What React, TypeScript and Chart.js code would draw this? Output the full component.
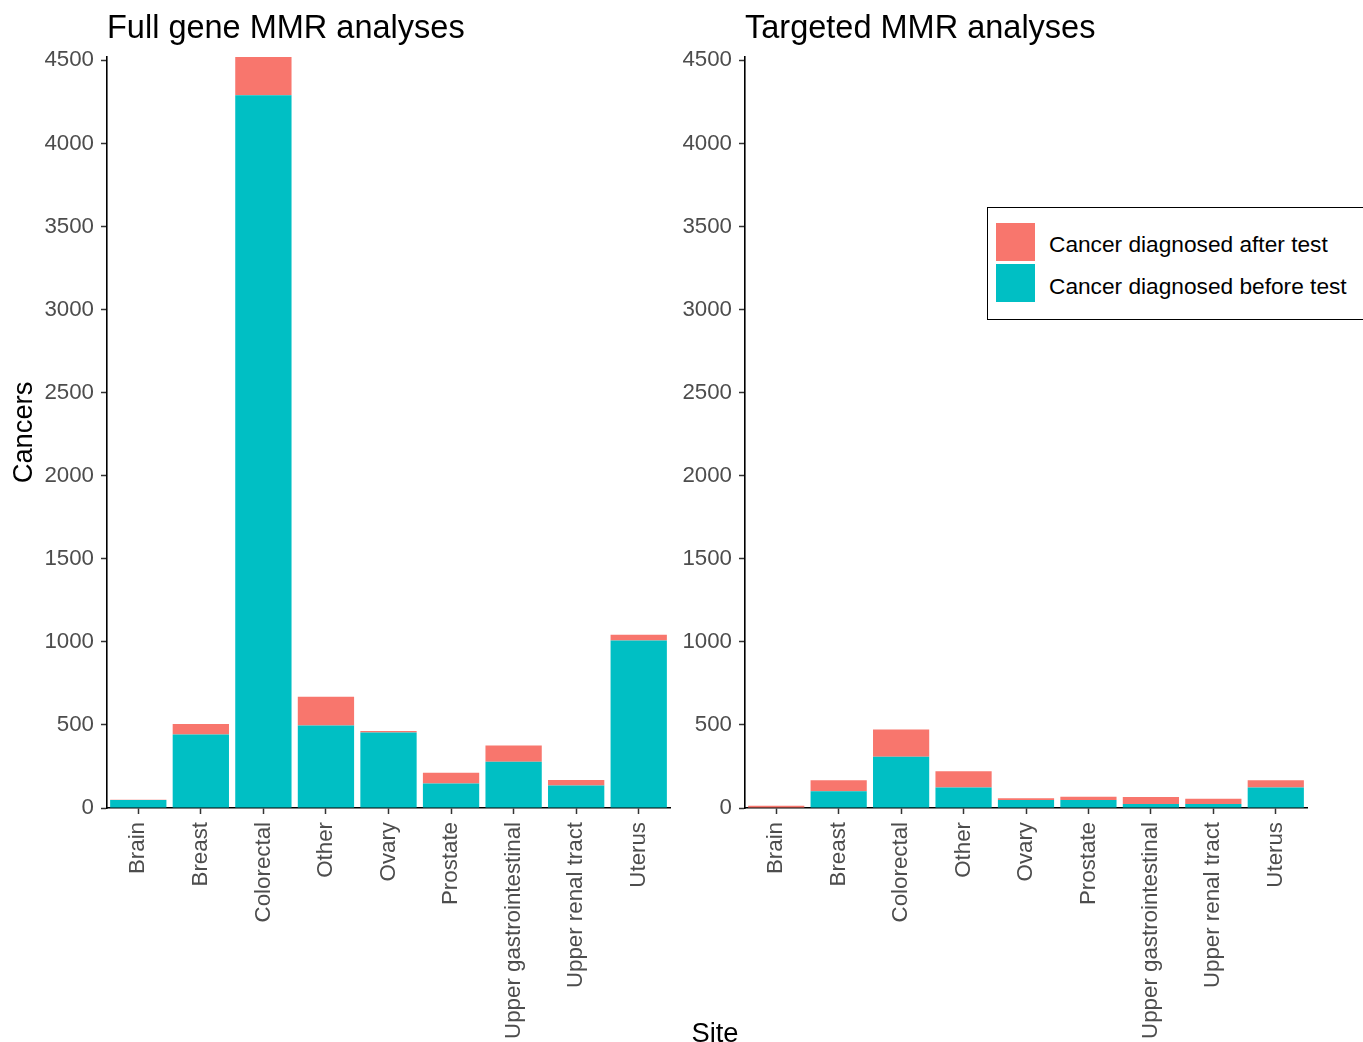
import React, { useEffect, useRef } from "react";
import { Chart, registerables } from "chart.js";

Chart.register(...registerables);

const sites = [
  "Brain",
  "Breast",
  "Colorectal",
  "Other",
  "Ovary",
  "Prostate",
  "Upper gastrointestinal",
  "Upper renal tract",
  "Uterus",
];
const fullBefore = [48, 442, 4290, 496, 454, 148, 278, 136, 1008];
const fullAfter = [2, 63, 230, 174, 10, 64, 98, 32, 34];
const targetedBefore = [3, 101, 308, 123, 48, 48, 24, 24, 123];
const targetedAfter = [11, 66, 165, 98, 10, 20, 42, 32, 44];
const yTicks = [0, 500, 1000, 1500, 2000, 2500, 3000, 3500, 4000, 4500];
const yMax = 4520;
const labelAfter = "Cancer diagnosed after test";
const labelBefore = "Cancer diagnosed before test";
const panelTitles = ["Full gene MMR analyses", "Targeted MMR analyses"];

const FONT = '"Liberation Sans", Arial, sans-serif';
const RED = "#F8766D";
const TEAL = "#00BFC4";

Chart.defaults.font.family = FONT;

type PanelProps = {
  before: number[];
  after: number[];
  left: number;
  width: number;
  yWidth: number;
  padRight: number;
  showYTitle: boolean;
};

function Panel({ before, after, left, width, yWidth, padRight, showYTitle }: PanelProps) {
  const ref = useRef<HTMLCanvasElement | null>(null);
  useEffect(() => {
    if (!ref.current) return;
    const gridCfg = {
      display: true,
      drawOnChartArea: false,
      drawTicks: true,
      tickLength: 6,
      tickColor: "#333333",
      tickWidth: 1.5,
      offset: false,
    };
    const borderCfg = { display: true, color: "#000000", width: 1.6 };
    const chart = new Chart(ref.current, {
      type: "bar",
      data: {
        labels: sites,
        datasets: [
          {
            label: labelBefore,
            data: before,
            backgroundColor: TEAL,
            borderWidth: 0,
            categoryPercentage: 1,
            barPercentage: 0.9,
          },
          {
            label: labelAfter,
            data: after,
            backgroundColor: RED,
            borderWidth: 0,
            categoryPercentage: 1,
            barPercentage: 0.9,
          },
        ],
      },
      options: {
        animation: false,
        responsive: true,
        maintainAspectRatio: false,
        layout: { padding: { top: 57, right: padRight, left: 0, bottom: 0 } },
        plugins: { legend: { display: false }, tooltip: { enabled: false } },
        scales: {
          x: {
            stacked: true,
            offset: true,
            grid: gridCfg,
            border: borderCfg,
            ticks: {
              autoSkip: false,
              maxRotation: 90,
              minRotation: 90,
              color: "#4D4D4D",
              font: { size: 22.3 },
              padding: 8,
            },
            afterFit: (s: any) => {
              s.height = 234;
            },
          },
          y: {
            stacked: true,
            min: 0,
            max: yMax,
            grid: gridCfg,
            border: borderCfg,
            afterBuildTicks: (s: any) => {
              s.ticks = yTicks.map((v) => ({ value: v }));
            },
            ticks: {
              color: "#4D4D4D",
              font: { size: 22.3 },
              padding: 7,
              callback: (v: any) => String(v),
            },
            title: {
              display: showYTitle,
              text: "Cancers",
              color: "#000000",
              font: { size: 27.3 },
              padding: { top: 8, bottom: 0 },
            },
            afterFit: (s: any) => {
              s.width = yWidth;
            },
          },
        },
      },
    });
    return () => chart.destroy();
  }, []);
  return (
    <div style={{ position: "absolute", left, top: 0, width, height: 1042 }}>
      <canvas ref={ref} />
    </div>
  );
}

export default function App() {
  const text = { position: "absolute" as const, fontFamily: FONT, whiteSpace: "nowrap" as const, lineHeight: 1 };
  return (
    <div
      style={{
        position: "absolute",
        left: 0,
        top: 0,
        width: 1363,
        height: 1042,
        overflow: "hidden",
        background: "#ffffff",
      }}
    >
      <Panel before={fullBefore} after={fullAfter} left={0} width={690} yWidth={107} padRight={20} showYTitle={true} />
      <Panel before={targetedBefore} after={targetedAfter} left={680} width={683} yWidth={65} padRight={56} showYTitle={false} />
      <div style={{ ...text, left: 107, top: 11, fontSize: 32.5, color: "#000" }}>{panelTitles[0]}</div>
      <div style={{ ...text, left: 745, top: 11, fontSize: 32.5, color: "#000" }}>{panelTitles[1]}</div>
      <div style={{ ...text, left: 715, top: 1019, fontSize: 27.3, color: "#000", transform: "translateX(-50%)" }}>Site</div>
      <div
        style={{
          position: "absolute",
          left: 987,
          top: 207,
          width: 420,
          height: 113,
          border: "1.5px solid #000",
          boxSizing: "border-box",
          background: "#fff",
          zIndex: 5,
        }}
      >
        <div style={{ position: "absolute", left: 8, top: 15, width: 39, height: 38, background: RED }} />
        <div style={{ position: "absolute", left: 8, top: 56, width: 39, height: 38, background: TEAL }} />
        <div style={{ ...text, left: 61, top: 36.5 - 11.5, fontSize: 22.7, color: "#000" }}>{labelAfter}</div>
        <div style={{ ...text, left: 61, top: 78.5 - 11.5, fontSize: 22.7, color: "#000" }}>{labelBefore}</div>
      </div>
    </div>
  );
}
